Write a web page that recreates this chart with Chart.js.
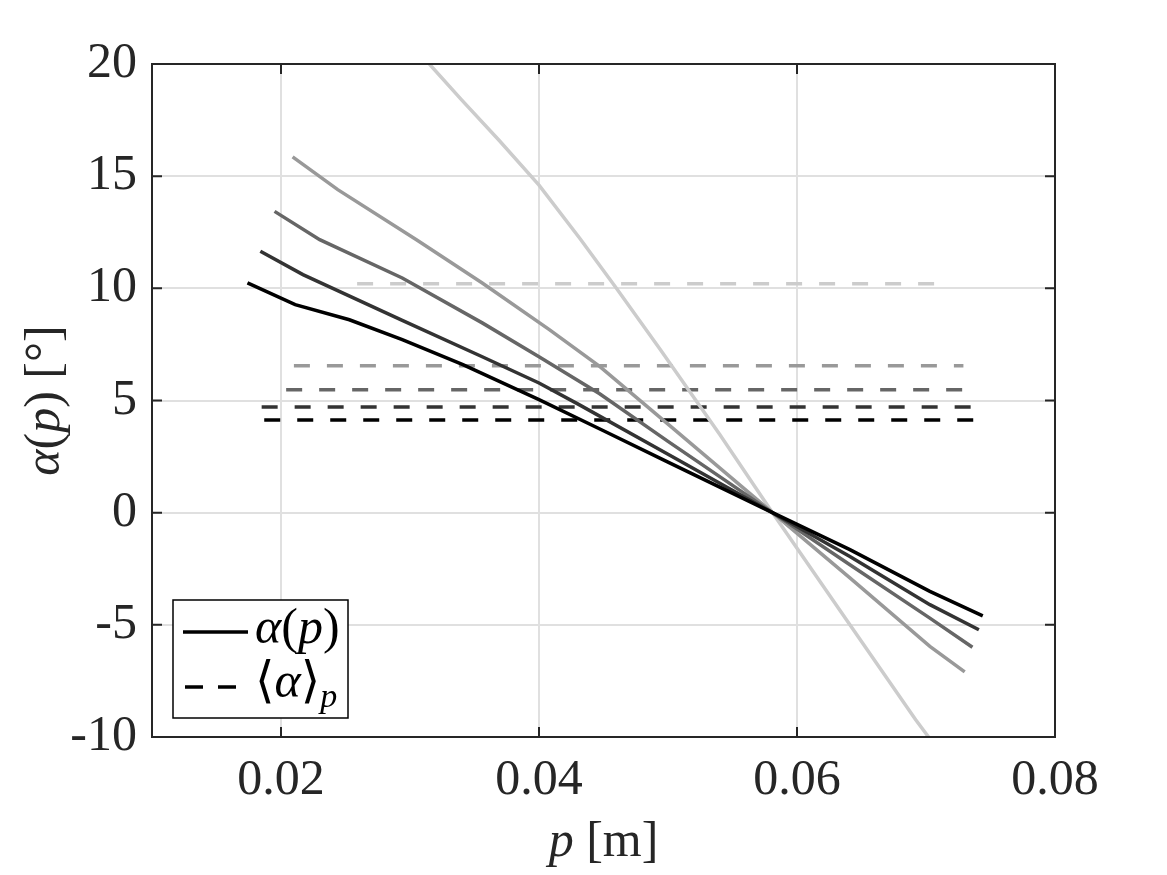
<!DOCTYPE html>
<html>
<head>
<meta charset="utf-8">
<script src="https://cdn.jsdelivr.net/npm/chart.js@4.4.0/dist/chart.umd.min.js"></script>
<style>
  body { margin: 0; background: #fff; }
  canvas { display: block; }
</style>
</head>
<body>
<canvas id="graficoAlpha" width="1167" height="875"></canvas>
<script>
// p [m] and alpha(p) [deg] for each of the five curves (darkest first)
const p1 = [0.0174, 0.0211, 0.0253, 0.0294, 0.0341, 0.0400, 0.0450, 0.0500, 0.0581, 0.0641, 0.0703, 0.0744]
const alpha1 = [10.24, 9.27, 8.6, 7.71, 6.6, 5.04, 3.65, 2.25, 0, -1.65, -3.51, -4.6]

const p2 = [0.0184, 0.0217, 0.0294, 0.0356, 0.0400, 0.0430, 0.0500, 0.0581, 0.0641, 0.0703, 0.0741]
const alpha2 = [11.65, 10.61, 8.57, 6.95, 5.78, 4.85, 2.6, 0, -1.95, -4.1, -5.22]

const p3 = [0.0195, 0.0230, 0.0294, 0.0356, 0.0400, 0.0447, 0.0500, 0.0581, 0.0641, 0.0703, 0.0736]
const alpha3 = [13.43, 12.17, 10.46, 8.46, 6.95, 5.3, 3.18, 0, -2.32, -4.7, -6.0]

const p4 = [0.0209, 0.0244, 0.0305, 0.0356, 0.0408, 0.0447, 0.0500, 0.0581, 0.0641, 0.0703, 0.0730]
const alpha4 = [15.86, 14.4, 12.17, 10.24, 8.16, 6.52, 3.95, 0, -2.91, -5.96, -7.1]

const p5 = [0.0315, 0.0340, 0.0369, 0.0400, 0.0432, 0.0460, 0.0494, 0.0540, 0.0581, 0.0641, 0.0692, 0.0702]
const alpha5 = [20.0, 18.4, 16.6, 14.6, 12.2, 10.0, 7.27, 3.5, 0, -5.0, -9.23, -10.0]

// mean <alpha>_p of each curve and the p range it is drawn over
const meanAlpha = [4.13, 4.71, 5.48, 6.55, 10.2]
const meanStart = [0.0187, 0.0185, 0.0204, 0.0210, 0.0259]
const meanEnd = [0.0744, 0.0740, 0.0735, 0.0729, 0.0713]

const pTicks = [0.02, 0.04, 0.06, 0.08]
const alphaTicks = [-10, -5, 0, 5, 10, 15, 20]

const cores = ['#000000', '#333333', '#666666', '#999999', '#cccccc']
const serif = '"Liberation Serif", "DejaVu Serif", serif'
const corTexto = '#262626'

function pontos (xs, ys) {
  return xs.map((x, i) => ({ x: x, y: ys[i] }))
}

const curvasP = [p1, p2, p3, p4, p5]
const curvasAlpha = [alpha1, alpha2, alpha3, alpha4, alpha5]

const datasets = []
curvasP.forEach((xs, i) => {
  datasets.push({
    label: 'alpha' + (i + 1),
    data: pontos(xs, curvasAlpha[i]),
    showLine: true,
    borderColor: cores[i],
    borderWidth: 3.5,
    pointRadius: 0,
    tension: 0
  })
})
meanAlpha.forEach((m, i) => {
  datasets.push({
    label: 'media' + (i + 1),
    data: pontos([meanStart[i], meanEnd[i]], [m, m]),
    showLine: true,
    borderColor: cores[i],
    borderWidth: 3.5,
    borderDash: [16, 17],
    pointRadius: 0
  })
})

// draws a string made of pieces with different fonts
function desenhaTexto (ctx, partes, x, y, alinhamento) {
  let largura = 0
  partes.forEach(pt => {
    ctx.font = pt.f
    largura += ctx.measureText(pt.t).width + (pt.dx || 0)
  })
  let cx = alinhamento === 'center' ? x - largura / 2 : x
  partes.forEach(pt => {
    ctx.font = pt.f
    cx += pt.dx || 0
    ctx.fillText(pt.t, cx, y + (pt.dy || 0))
    cx += ctx.measureText(pt.t).width
  })
}

const normal = '50px ' + serif
const italico = 'italic 50px ' + serif
const subscrito = 'italic 34px ' + serif

const moldura = {
  id: 'moldura',
  afterDatasetsDraw (chart) {
    const ctx = chart.ctx
    const a = chart.chartArea
    const sx = chart.scales.x
    const sy = chart.scales.y
    ctx.save()

    // box and inner tick marks
    ctx.strokeStyle = corTexto
    ctx.lineWidth = 2
    ctx.strokeRect(a.left, a.top, a.right - a.left, a.bottom - a.top)
    ctx.beginPath()
    pTicks.forEach(v => {
      const px = sx.getPixelForValue(v)
      ctx.moveTo(px, a.bottom); ctx.lineTo(px, a.bottom - 10)
      ctx.moveTo(px, a.top); ctx.lineTo(px, a.top + 10)
    })
    alphaTicks.forEach(v => {
      const py = sy.getPixelForValue(v)
      ctx.moveTo(a.left, py); ctx.lineTo(a.left + 10, py)
      ctx.moveTo(a.right, py); ctx.lineTo(a.right - 10, py)
    })
    ctx.stroke()

    // legend
    const lx = 173, ly = 600, lw = 175, lh = 118
    ctx.fillStyle = '#ffffff'
    ctx.fillRect(lx, ly, lw, lh)
    ctx.strokeStyle = '#000000'
    ctx.lineWidth = 1.5
    ctx.strokeRect(lx, ly, lw, lh)

    ctx.strokeStyle = '#000000'
    ctx.lineWidth = 3.5
    ctx.beginPath()
    ctx.moveTo(183, 632); ctx.lineTo(248, 632)
    ctx.stroke()
    ctx.setLineDash([18, 15])
    ctx.beginPath()
    ctx.moveTo(185, 687); ctx.lineTo(236, 687)
    ctx.stroke()
    ctx.setLineDash([])

    ctx.fillStyle = '#000000'
    ctx.textBaseline = 'middle'
    ctx.textAlign = 'left'
    desenhaTexto(ctx, [
      { t: 'α', f: italico },
      { t: '(', f: normal },
      { t: 'p', f: italico },
      { t: ')', f: normal }
    ], 255, 630, 'left')
    desenhaTexto(ctx, [
      { t: '⟨', f: normal },
      { t: 'α', f: italico },
      { t: '⟩', f: normal },
      { t: 'p', f: subscrito, dy: 14 }
    ], 255, 684, 'left')

    // axis titles
    ctx.fillStyle = corTexto
    desenhaTexto(ctx, [
      { t: 'p', f: italico },
      { t: ' [m]', f: normal }
    ], (a.left + a.right) / 2, 843, 'center')

    ctx.translate(46, (a.top + a.bottom) / 2)
    ctx.rotate(-Math.PI / 2)
    desenhaTexto(ctx, [
      { t: 'α', f: italico },
      { t: '(', f: normal },
      { t: 'p', f: italico },
      { t: ')', f: normal },
      { t: ' [°]', f: normal }
    ], 0, 0, 'center')
    ctx.restore()
  }
}

const graficoAlpha = document.getElementById('graficoAlpha')

const grafico = new Chart(graficoAlpha, {
  type: 'scatter',
  data: { datasets: datasets },
  options: {
    responsive: false,
    animation: false,
    layout: { padding: { left: 0, top: 64, right: 112, bottom: 0 } },
    plugins: {
      legend: { display: false },
      tooltip: { enabled: false }
    },
    scales: {
      x: {
        type: 'linear',
        min: 0.01,
        max: 0.08,
        afterBuildTicks: scale => { scale.ticks = pTicks.map(v => ({ value: v })) },
        afterFit: scale => { scale.height = 138 },
        grid: { color: '#e0e0e0', lineWidth: 2, drawTicks: false },
        border: { display: false },
        ticks: {
          padding: 14,
          color: corTexto,
          font: { family: serif, size: 50 },
          callback: v => v.toFixed(2)
        }
      },
      y: {
        type: 'linear',
        min: -10,
        max: 20,
        afterBuildTicks: scale => { scale.ticks = alphaTicks.map(v => ({ value: v })) },
        afterFit: scale => { scale.width = 152 },
        grid: { color: '#e0e0e0', lineWidth: 2, drawTicks: false },
        border: { display: false },
        ticks: {
          padding: 15,
          color: corTexto,
          font: { family: serif, size: 50 },
          callback: v => String(v)
        }
      }
    }
  },
  plugins: [moldura]
})
</script>
</body>
</html>
